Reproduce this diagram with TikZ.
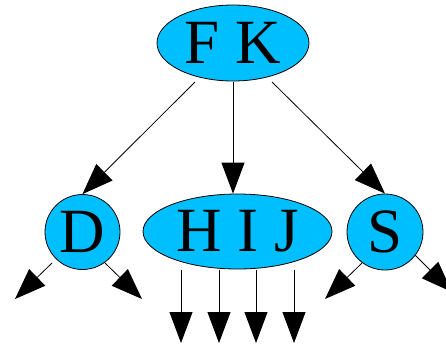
\documentclass[tikz,border=0pt]{standalone}
\usepackage{fontspec}
\setmainfont{Liberation Serif}
\usetikzlibrary{shapes.geometric,arrows.meta}
\definecolor{nodeblue}{RGB}{0,191,255}
\tikzset{
  keynode/.style={ellipse, draw=black, line width=0.8pt, fill=nodeblue, inner sep=0pt,
    font=\fontsize{63}{63}\selectfont},
  edge/.style={draw=black, line width=0.8pt, -{Triangle[length=31pt,width=23pt]}}
}
\begin{document}
\begin{tikzpicture}[x=1pt,y=-1pt]
\useasboundingbox (0,0) rectangle (446,346);
\begin{scope}
\clip (0,0) rectangle (446,346);
\node[keynode, minimum width=152pt, minimum height=76pt] (FK) at (233,43) {F K};
\node[keynode, minimum width=75pt, minimum height=75pt] (D) at (82.5,232) {D};
\node[keynode, minimum width=189pt, minimum height=75pt] (HIJ) at (237.5,231.5) {H I J};
\node[keynode, minimum width=76pt, minimum height=76pt] (S) at (385,232) {S};
% ports of FK
\coordinate (fk1) at (195,82);
\coordinate (fk2) at (233,82);
\coordinate (fk3) at (272,82);
\draw[edge] (fk1) -- (D.north);
\draw[edge] (fk2) -- (fk2 |- HIJ.north);
\draw[edge] (fk3) -- (S.north);
% children of D
\coordinate (d1) at (52,263);
\coordinate (d1e) at (15,299);
\coordinate (d2) at (105,263);
\coordinate (d2e) at (142,299);
\draw[edge] (d1) -- (d1e);
\draw[edge] (d2) -- (d2e);
% children of HIJ
\foreach \i/\x in {1/181,2/219,3/256,4/294}{
  \coordinate (h\i) at (\x,270);
  \coordinate (h\i e) at (\x,343);
  \draw[edge] (h\i) -- (h\i e);
}
% children of S
\coordinate (s1) at (362,263);
\coordinate (s1e) at (325,299);
\coordinate (s2) at (415,255);
\coordinate (s2e) at (452,292);
\draw[edge] (s1) -- (s1e);
\draw[edge] (s2) -- (s2e);
\end{scope}
\end{tikzpicture}
\end{document}
